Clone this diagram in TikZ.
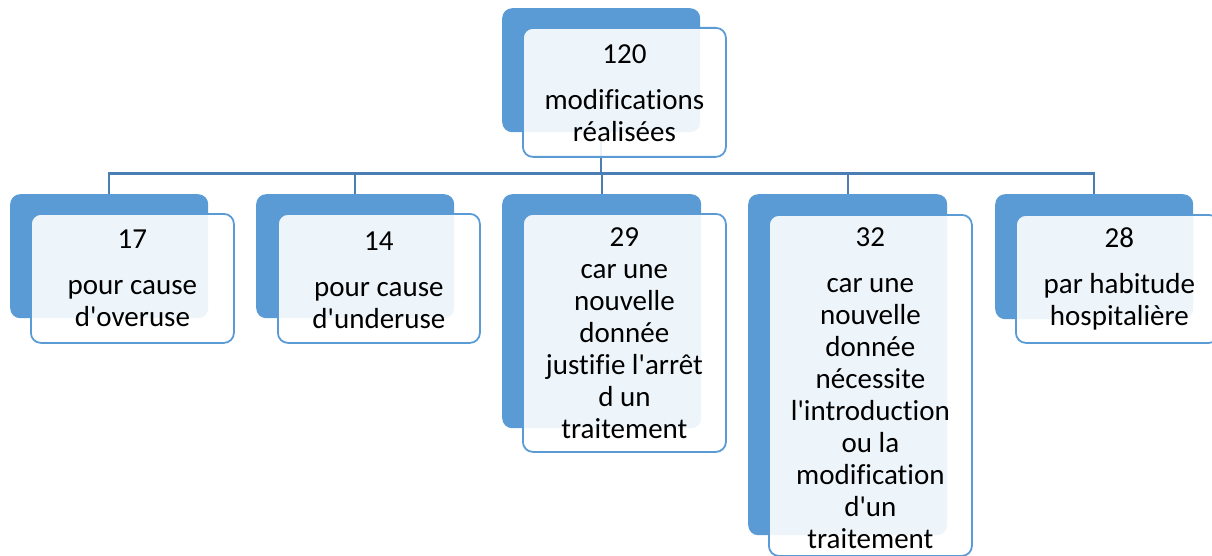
\documentclass[tikz,border=0pt]{standalone}
\usepackage{fontspec}
\setmainfont{Carlito}[Ligatures={NoCommon}]
\definecolor{darkbox}{HTML}{5B9BD5}
\definecolor{linkcol}{HTML}{4A7EB5}
\newcommand{\q}{\textquotesingle}
\begin{document}
\begin{tikzpicture}[x=1pt,y=-1pt,
  back/.style={draw=none,fill=darkbox,rounded corners=10pt,anchor=north west,inner sep=0pt},
  front/.style={draw=darkbox,line width=1.8pt,fill=white,fill opacity=0.9,text opacity=1,rounded corners=10pt,anchor=north west,inner sep=0pt},
  lbl/.style={align=center,font=\fontsize{29}{32}\selectfont,text=black,inner sep=0pt},
  link/.style={draw=linkcol,line width=2.4pt}]
\useasboundingbox (0,0) rectangle (1212,556);
% back boxes
\node[back,minimum width=198pt,minimum height=124pt] (d0) at (502,8) {};
\node[back,minimum width=198pt,minimum height=124pt] (d1) at (10,194) {};
\node[back,minimum width=198pt,minimum height=124pt] (d2) at (256,194) {};
\node[back,minimum width=199pt,minimum height=234pt] (d3) at (502,194) {};
\node[back,minimum width=199pt,minimum height=341pt] (d4) at (748,194) {};
\node[back,minimum width=198pt,minimum height=125pt] (d5) at (995,194) {};
% connectors
\foreach \k in {1,...,5}{\draw[link] (d0.south) -- ++(0,41) -| (d\k.north);}
% front boxes
\node[front,minimum width=203pt,minimum height=129pt] (f0) at (522,27) {};
\node[front,minimum width=203pt,minimum height=129pt] (f1) at (30,213) {};
\node[front,minimum width=202pt,minimum height=129pt] (f2) at (277,213) {};
\node[front,minimum width=203pt,minimum height=238pt] (f3) at (522,213) {};
\node[front,minimum width=203pt,minimum height=341pt] (f4) at (768,214) {};
\node[front,minimum width=203pt,minimum height=128pt] (f5) at (1015,214) {};
% labels
\node[lbl] (t0) at ([yshift=-1pt]f0.center) {120\\[14pt]modifications\\réalisées};
\node[lbl] (t1) at ([yshift=0pt]f1.center) {17\\[14pt]pour cause\\d\q overuse};
\node[lbl] (t2) at ([yshift=-2pt]f2.center) {14\\[14pt]pour cause\\d\q underuse};
\node[lbl] (t3) at ([yshift=0pt]f3.center) {29\\car une\\nouvelle\\donnée\\justifie l\q arrêt\\d un\\traitement};
\node[lbl] (t4) at ([yshift=-3pt]f4.center) {32\\[14pt]car une\\nouvelle\\donnée\\nécessite\\l\q introduction\\ou la\\modification\\d\q un\\traitement};
\node[lbl] (t5) at ([xshift=2pt]f5.center) {28\\[14pt]par habitude\\hospitalière};
\end{tikzpicture}
\end{document}
